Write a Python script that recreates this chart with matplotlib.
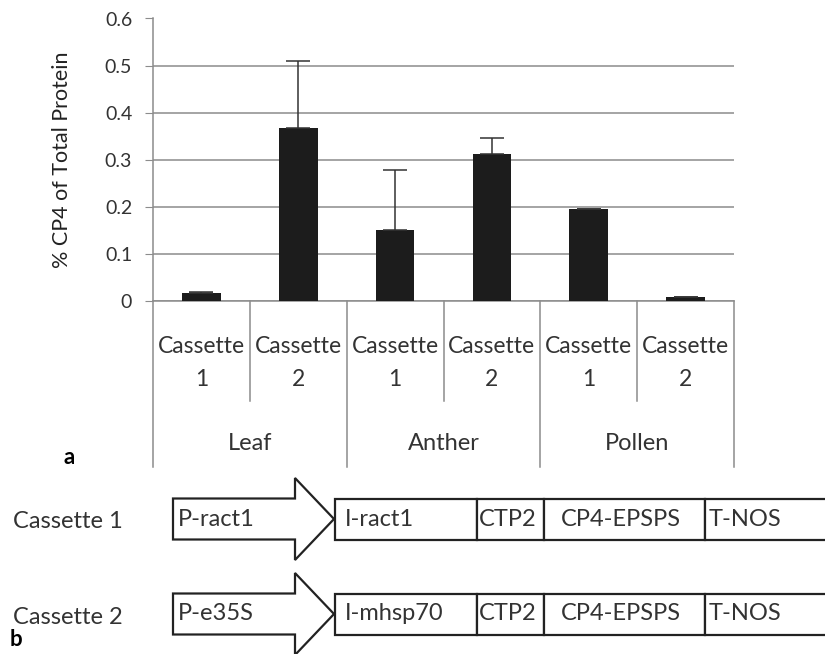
import numpy as np
import matplotlib.pyplot as plt
from matplotlib.patches import Polygon, Rectangle

plt.rcParams['font.family'] = ['Lato', 'DejaVu Sans']

# data
tissues = ['Leaf', 'Anther', 'Pollen']
cassettes = ['Cassette\n1', 'Cassette\n2']
values = [0.016, 0.368, 0.151, 0.312, 0.195, 0.009]
errors = [0.003, 0.141, 0.127, 0.034, 0.0, 0.0]

# construct diagram (panel b)
construct_names = ['Cassette 1', 'Cassette 2']
promoters = ['P-ract1', 'P-e35S']
introns = ['I-ract1', 'I-mhsp70']
parts = ['CTP2', 'CP4-EPSPS', 'T-NOS']

W, H = 825, 654
fig = plt.figure(figsize=(W / 100, H / 100), dpi=100)

ax = fig.add_axes([153 / W, (H - 301) / H, 581 / W, 282.5 / H])
x = np.arange(len(values))
ax.bar(x, values, width=0.4, color='#1c1c1c', zorder=3)
ax.errorbar(x, values, yerr=[np.zeros(len(errors)), errors], fmt='none',
            ecolor='#333333', elinewidth=1.1, capsize=8.5, capthick=1.1, zorder=4)

ax.set_xlim(-0.5, len(values) - 0.5)
ax.set_ylim(0, 0.6)
ax.set_yticks(np.arange(0, 0.61, 0.1))
ax.set_yticklabels(['0'] + ['%.1f' % v for v in np.arange(0.1, 0.61, 0.1)])
ax.grid(axis='y', color='#8c8c8c', lw=1.1, zorder=0)
ax.tick_params(axis='y', length=6, color='#8c8c8c', labelsize=14, pad=9, labelcolor='#333333')
ax.set_ylabel('% CP4 of Total Protein', fontsize=15.5, color='#222222')
ax.yaxis.set_label_coords(-0.139, 0.5)
for s in ['top', 'right']:
    ax.spines[s].set_visible(False)
for s in ['left', 'bottom']:
    ax.spines[s].set_color('#8c8c8c')
    ax.spines[s].set_linewidth(1.1)

# two-level category axis
ax.set_xticks(x, cassettes * len(tissues), fontsize=16.5, linespacing=1.75,
              color='#333333')
ax.tick_params(axis='x', length=0, pad=25)
tr = ax.get_xaxis_transform()
for i in range(len(values) + 1):
    bottom = -0.588 if i % 2 == 0 else -0.354
    ax.plot([i - 0.5, i - 0.5], [0, bottom], transform=tr, color='#8c8c8c',
            lw=1.1, clip_on=False)
for g, name in enumerate(tissues):
    ax.text(2 * g + 0.5, -0.503, name, transform=tr, ha='center', va='center',
            fontsize=17, color='#333333')

# overlay in pixel coordinates for labels and panel b
ov = fig.add_axes([0, 0, 1, 1], facecolor='none')
ov.set_xlim(0, W)
ov.set_ylim(H, 0)
ov.axis('off')
ov.text(69, 458, 'a', fontsize=16, fontweight='bold', ha='center', va='center')
ov.text(16, 640, 'b', fontsize=16, fontweight='bold', ha='center', va='center')

row_y = [519, 614]
edges = [335, 477, 544, 705, 840]
label_x = [345, 479, None, 709]
for r, yc in enumerate(row_y):
    h, hh = 20.5, 41
    arrow = [(173, yc - h), (295, yc - h), (295, yc - hh), (334, yc),
             (295, yc + hh), (295, yc + h), (173, yc + h)]
    ov.add_patch(Polygon(arrow, closed=True, fc='white', ec='#222222', lw=1.6))
    ov.text(178, yc, promoters[r], fontsize=17, va='center', color='#333333')
    ov.text(13, yc + 3, construct_names[r], fontsize=17, va='center', color='#333333')
    names = [introns[r]] + parts
    for k in range(len(names)):
        ov.add_patch(Rectangle((edges[k], yc - h), edges[k + 1] - edges[k], 2 * h,
                               fc='white', ec='#222222', lw=1.6, clip_on=False))
        if label_x[k] is None:
            ov.text((edges[k] + edges[k + 1]) / 2 - 4, yc, names[k], fontsize=17,
                    ha='center', va='center', color='#333333')
        else:
            ov.text(label_x[k], yc, names[k], fontsize=17, va='center', color='#333333')

fig.savefig('out.png', dpi=100)
